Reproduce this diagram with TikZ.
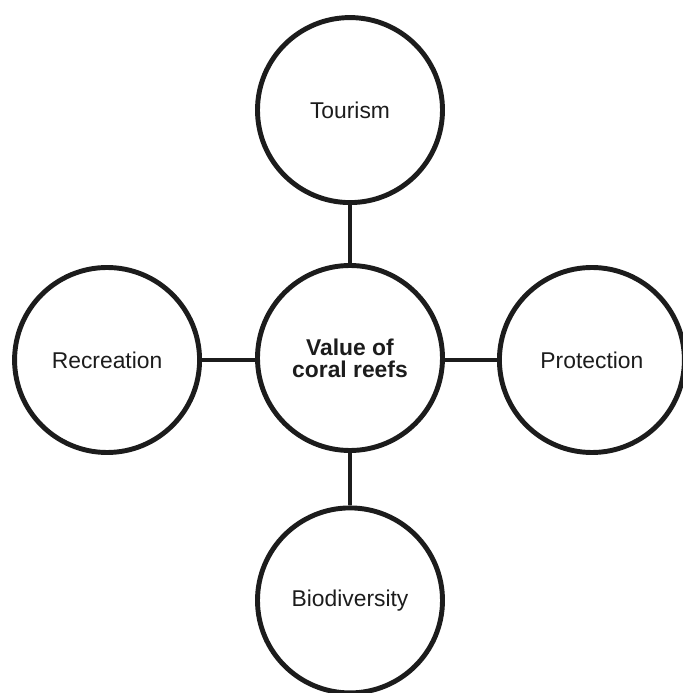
\documentclass[tikz,border=0pt]{standalone}
\usepackage{fontspec}
\setmainfont{Liberation Sans}
\usepackage{tikz}
\usetikzlibrary{positioning}
\definecolor{ink}{HTML}{1C1C1C}

\begin{document}
\begin{tikzpicture}[font=\fontsize{13}{12.5}\selectfont, node distance=1.05cm,
    topic/.style={draw=ink, circle, line width=2.8pt, minimum size=3.7cm, inner sep=0pt, text=ink, align=center},
    link/.style={ink, line width=2.6pt}]
    \useasboundingbox (-7.0,-6.70) rectangle (6.64,7.16);
    \node[topic, font=\fontsize{13}{12.5}\selectfont\bfseries] (core) at (0,0) {Value of\\coral reefs};
    \node[topic, above=1.16cm of core] (tourism) {Tourism};
    \node[topic, left=1.06cm of core, yshift=-0.04cm] (recreation) {Recreation};
    \node[topic, right=1.04cm of core, yshift=-0.04cm] (protection) {Protection};
    \node[topic, below=of core] (biodiversity) {Biodiversity};
    \draw[link] (tourism)--(core);
    \draw[link] (recreation)--(recreation-|core.west);
    \draw[link] (protection)--(protection-|core.east);
    \draw[link] (core)--(biodiversity);
  \end{tikzpicture}
\end{document}
